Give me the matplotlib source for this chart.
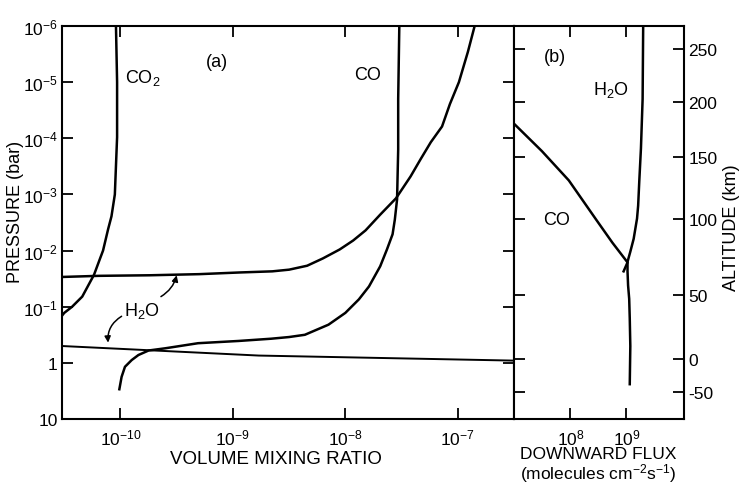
import numpy as np
import matplotlib.pyplot as plt

# panel (a): log10 volume mixing ratio vs log10 pressure (bar)
co2_x = [-10.04, -10.03, -10.03, -10.05, -10.08, -10.11, -10.155, -10.185,
         -10.235, -10.34, -10.43, -10.50, -10.52]
co2_p = [-6.0, -5.0, -4.02, -3.0, -2.61, -2.38, -2.0, -1.84,
         -1.57, -1.18, -1.0, -0.89, -0.84]

co_x = [-7.52, -7.53, -7.53, -7.54, -7.56, -7.58, -7.63, -7.69, -7.79, -7.88,
        -8.0, -8.15, -8.36, -8.5, -8.66, -8.95, -9.31, -9.6, -9.75, -9.84,
        -9.9, -9.96, -9.99, -10.01]
co_p = [-6.0, -4.7, -3.8, -2.91, -2.55, -2.29, -2.02, -1.72, -1.36, -1.13,
        -0.89, -0.68, -0.5, -0.46, -0.43, -0.39, -0.35, -0.26, -0.22, -0.14,
        -0.05, 0.07, 0.25, 0.47]

h2o_up_x = [-10.52, -10.19, -9.74, -9.3, -8.94, -8.65, -8.5, -8.34, -8.2,
            -8.05, -7.93, -7.82, -7.69, -7.55, -7.42, -7.33, -7.24, -7.14,
            -7.07, -6.99, -6.91, -6.85]
h2o_up_p = [-1.53, -1.55, -1.56, -1.58, -1.61, -1.63, -1.66, -1.73, -1.86,
            -2.02, -2.18, -2.36, -2.64, -2.93, -3.32, -3.63, -3.93, -4.21,
            -4.61, -5.0, -5.54, -6.0]

h2o_low_x = [-10.52, -8.77, -6.5]
h2o_low_p = [-0.30, -0.13, -0.04]

# panel (b): log10 downward flux (molecules cm-2 s-1) vs log10 pressure
flux_h2o_x = [9.3, 9.29, 9.26, 9.23, 9.21, 9.19, 9.13, 9.07, 9.02, 9.02,
              9.03, 9.05, 9.06, 9.07, 9.06]
flux_h2o_p = [-6.0, -4.7, -3.82, -3.23, -2.8, -2.57, -2.21, -1.98, -1.8,
              -1.63, -1.38, -1.14, -0.79, -0.3, 0.38]

flux_co_x = [7.0, 7.49, 7.97, 8.46, 8.75, 9.02, 8.95]
flux_co_p = [-4.25, -3.77, -3.25, -2.55, -2.14, -1.79, -1.63]

# altitude scale (km) and where it sits in log10 pressure
alt_km = [250, 200, 150, 100, 50, 0, -50]
alt_p = [-5.59, -4.64, -3.66, -2.57, -1.20, -0.07, 0.52]

p_ticks = [-6, -5, -4, -3, -2, -1, 0, 1]
p_labels = ['$10^{-6}$', '$10^{-5}$', '$10^{-4}$', '$10^{-3}$', '$10^{-2}$',
            '$10^{-1}$', '1', '10']
vmr_ticks = [-10, -9, -8, -7]
flux_ticks = [8, 9]

plt.rcParams['font.family'] = 'Liberation Sans'
plt.rcParams['mathtext.fontset'] = 'custom'
plt.rcParams['mathtext.rm'] = 'Liberation Sans'
plt.rcParams['mathtext.it'] = 'Liberation Sans'
plt.rcParams['mathtext.default'] = 'regular'

W, H = 741, 485
fig = plt.figure(figsize=(W / 100, H / 100), dpi=100)
axa = fig.add_axes([62 / W, 65 / H, 452 / W, 393 / H])
axb = fig.add_axes([514 / W, 65 / H, 170 / W, 393 / H])


def lg(v):
    return 10 ** np.array(v, dtype=float)


lw = 1.8
axa.plot(lg(co2_x), lg(co2_p), color='k', lw=lw)
axa.plot(lg(co_x), lg(co_p), color='k', lw=lw)
axa.plot(lg(h2o_up_x), lg(h2o_up_p), color='k', lw=lw)
axa.plot(lg(h2o_low_x), lg(h2o_low_p), color='k', lw=1.4)

axb.plot(lg(flux_h2o_x), lg(flux_h2o_p), color='k', lw=lw)
axb.plot(lg(flux_co_x), lg(flux_co_p), color='k', lw=lw)

for ax in (axa, axb):
    ax.set_xscale('log')
    ax.set_yscale('log')
    ax.set_ylim(10, 1e-6)
    for s in ax.spines.values():
        s.set_linewidth(1.5)
    ax.tick_params(direction='in', length=8, width=1.3, top=True,
                   labelsize=12.5, colors='k')

axa.set_xlim(10 ** -10.52, 10 ** -6.5)
axa.set_xticks(lg(vmr_ticks))
axa.set_xticklabels(['$10^{%d}$' % t for t in vmr_ticks])
axa.set_yticks(lg(p_ticks))
axa.set_yticklabels(p_labels)
axa.tick_params(axis='y', right=True, pad=3)
axa.tick_params(axis='x', pad=6)
axa.minorticks_off()

axb.set_xlim(10 ** 6.99, 10 ** 10.03)
axb.set_xticks(lg(flux_ticks))
axb.set_xticklabels(['$10^{%d}$' % t for t in flux_ticks])
axb.set_yticks(lg(alt_p))
axb.set_yticklabels([str(a) for a in alt_km])
axb.tick_params(axis='y', left=True, right=True, labelleft=False,
                labelright=True, pad=3)
axb.tick_params(axis='x', pad=6)
axb.minorticks_off()

fs = 13
# labels inside the panels
axa.text(lg(-9.80), lg(-5.09), 'CO$_2$', ha='center', va='center', fontsize=fs)
axa.text(lg(-9.14), lg(-5.36), '(a)', ha='center', va='center', fontsize=fs)
axa.text(lg(-7.80), lg(-5.14), 'CO', ha='center', va='center', fontsize=fs)
axa.text(lg(-9.81), lg(-0.95), 'H$_2$O', ha='center', va='center', fontsize=fs)
axa.annotate('', xy=(lg(-9.5), lg(-1.56)), xytext=(lg(-9.64), lg(-1.18)),
             arrowprops=dict(arrowstyle='-|>', color='k', lw=1.1,
                             mutation_scale=9, shrinkA=0, shrinkB=0,
                             connectionstyle='arc3,rad=0.2'))
axa.annotate('', xy=(lg(-10.11), lg(-0.36)), xytext=(lg(-9.99), lg(-0.83)),
             arrowprops=dict(arrowstyle='-|>', color='k', lw=1.1,
                             mutation_scale=9, shrinkA=0, shrinkB=0,
                             connectionstyle='arc3,rad=0.3'))

axb.text(lg(7.73), lg(-5.45), '(b)', ha='center', va='center', fontsize=fs)
axb.text(lg(8.72), lg(-4.88), 'H$_2$O', ha='center', va='center', fontsize=fs)
axb.text(lg(7.76), lg(-2.55), 'CO', ha='center', va='center', fontsize=fs)

# axis titles
fig.text(16 / W, 1 - 212 / H, 'PRESSURE (bar)', rotation=90, ha='center',
         va='center', fontsize=fs)
fig.text(276 / W, 1 - 460 / H, 'VOLUME MIXING RATIO', ha='center',
         va='center', fontsize=13.5)
fig.text(598 / W, 1 - 466 / H,
         'DOWNWARD FLUX\n(molecules cm$^{-2}$s$^{-1}$)', ha='center',
         va='center', multialignment='center', linespacing=1.0,
         fontsize=12.5)
fig.text(732 / W, 1 - 228 / H, 'ALTITUDE (km)', rotation=90, ha='center',
         va='center', fontsize=fs)

fig.savefig('out.png', dpi=100)
